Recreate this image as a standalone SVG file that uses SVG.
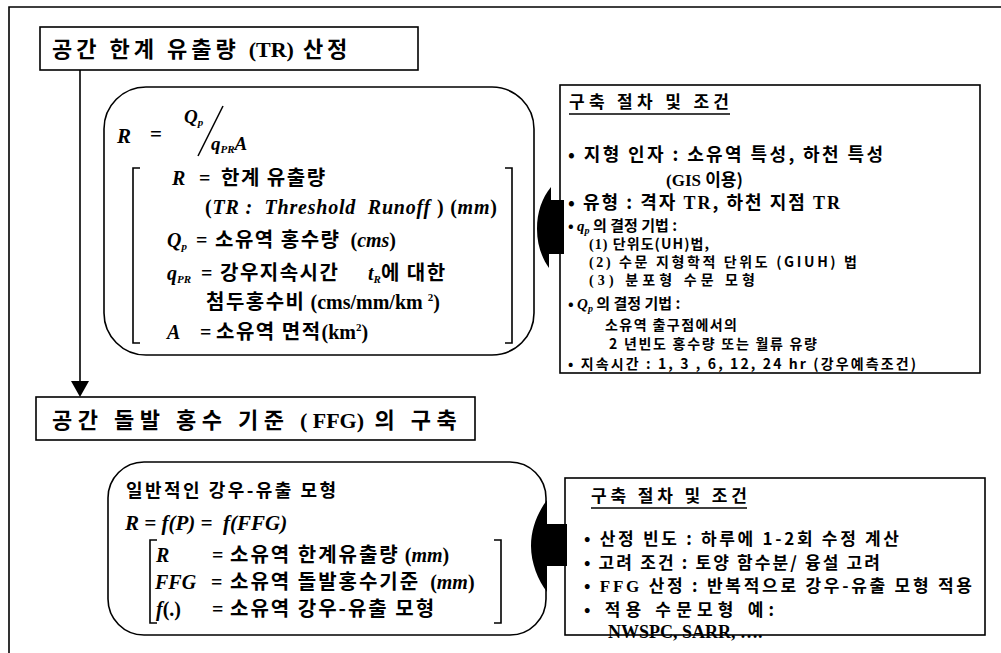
<svg xmlns="http://www.w3.org/2000/svg" width="1001" height="653" viewBox="0 0 1001 653">
<defs>
<style>
.k{font-family:"Noto Sans CJK KR","Noto Sans",sans-serif;font-weight:bold;fill:#000}
.m{font-family:"Liberation Serif","Noto Sans CJK KR",serif;font-weight:bold;font-style:italic;fill:#000}
.r{font-family:"Liberation Serif","Noto Sans CJK KR",serif;font-weight:bold;font-style:normal;fill:#000}
.box{fill:#fff;stroke:#000;stroke-width:1.6}
.ln{fill:none;stroke:#000;stroke-width:1.6}
.f1 tspan.k{letter-spacing:1.5px}
.f2 tspan.k{letter-spacing:2px}
.t1 tspan.k{letter-spacing:4px}
.t2 tspan.k{letter-spacing:5.5px}
</style>
</defs>
<rect width="1001" height="653" fill="#fff"/>
<g id="frame"><path class="ln" d="M9,653 L9,7 L1001,7"/></g>

<g id="title1" class="t1">
<rect class="box" x="40" y="27" width="378" height="43"/>
<text x="52" y="57" font-size="22" xml:space="preserve"><tspan class="k">공간 한계 유출량 </tspan><tspan class="r">(TR)</tspan><tspan class="k"> 산정</tspan></text>
</g>

<g id="tr-formula" class="f1">
<rect class="box" x="104" y="87" width="430" height="268" rx="42"/>
<text class="m" x="117" y="143" font-size="21">R</text>
<text class="r" x="150" y="141" font-size="21">=</text>
<text class="m" x="184" y="123" font-size="19">Q<tspan font-size="11" dy="3">p</tspan></text>
<line class="ln" x1="198" y1="156" x2="223" y2="106"/>
<text class="m" x="211" y="150" font-size="19">q<tspan font-size="11" dy="3">PR</tspan><tspan dy="-3">A</tspan></text>
<path class="ln" d="M140,168 L133,168 L133,343 L140,343"/>
<path class="ln" d="M505,168 L512,168 L512,343 L505,343"/>
<text x="172" y="185" font-size="20"><tspan class="m">R</tspan><tspan class="r" x="199">=</tspan><tspan class="k" x="221">한계 유출량</tspan></text>
<text x="205" y="214" font-size="20" xml:space="preserve" textLength="292" lengthAdjust="spacing"><tspan class="r">(</tspan><tspan class="m">TR :  Threshold  Runoff </tspan><tspan class="r">) (</tspan><tspan class="m">mm</tspan><tspan class="r">)</tspan></text>
<text x="167" y="247" font-size="20"><tspan class="m">Q<tspan font-size="11" dy="3">p</tspan></tspan><tspan class="r" dy="-3" x="196">=</tspan><tspan class="k" x="215">소유역  홍수량</tspan><tspan class="r" xml:space="preserve">  (</tspan><tspan class="m">cms</tspan><tspan class="r">)</tspan></text>
<text x="167" y="280" font-size="20"><tspan class="m">q<tspan font-size="11" dy="3">PR</tspan></tspan><tspan class="r" dy="-3" x="201">=</tspan><tspan class="k" x="220">강우지속시간</tspan><tspan class="m" x="368">t<tspan font-size="11" dy="3">R</tspan></tspan><tspan class="k" dy="-3">에 대한</tspan></text>
<text x="206" y="309" font-size="20"><tspan class="k">첨두홍수비</tspan><tspan class="r" xml:space="preserve"> (cms/mm/km </tspan><tspan class="r" font-size="11" dy="-8">2</tspan><tspan class="r" dy="8">)</tspan></text>
<text x="167" y="339" font-size="20"><tspan class="m">A</tspan><tspan class="r" x="200">=</tspan><tspan class="k" x="216">소유역  면적</tspan><tspan class="r">(km</tspan><tspan class="r" font-size="11" dy="-8">2</tspan><tspan class="r" dy="8">)</tspan></text>
</g>

<g id="tr-procedure">
<rect class="box" x="560" y="85" width="420" height="288"/>
<text class="k" x="569" y="108" font-size="17" textLength="160" lengthAdjust="spacing">구축 절차 및 조건</text>
<line class="ln" x1="569" y1="114" x2="730" y2="114"/>
<text class="k" x="568" y="161" font-size="18" textLength="315" lengthAdjust="spacing">• 지형 인자 : 소유역 특성, 하천 특성</text>
<text x="666" y="186" font-size="17"><tspan class="r">(GIS </tspan><tspan class="k">이용)</tspan></text>
<text class="k" x="568" y="209" font-size="18" textLength="272" lengthAdjust="spacing">• 유형 :  격자 <tspan class="r">TR</tspan>, 하천 지점  <tspan class="r">TR</tspan></text>
<text x="568" y="231" font-size="15"><tspan class="k">• </tspan><tspan class="m">q<tspan font-size="10" dy="3">p</tspan></tspan><tspan class="k" dy="-3"> 의 결정 기법 :</tspan></text>
<text class="k" x="589" y="249" font-size="14" textLength="120" lengthAdjust="spacing"><tspan class="r">(1)</tspan>  단위도(UH)법,</text>
<text class="k" x="589" y="267" font-size="14" textLength="268" lengthAdjust="spacing"><tspan class="r">(2)</tspan>  수문 지형학적 단위도 (GIUH) 법</text>
<text class="k" x="589" y="285" font-size="14" textLength="166" lengthAdjust="spacing"><tspan class="r">(3)</tspan>   분포형 수문 모형</text>
<text x="568" y="309" font-size="15"><tspan class="k">• </tspan><tspan class="m">Q<tspan font-size="10" dy="3">p</tspan></tspan><tspan class="k" dy="-3"> 의 결정 기법 :</tspan></text>
<text class="k" x="605" y="330" font-size="14" textLength="132" lengthAdjust="spacing">소유역 출구점에서의</text>
<text class="k" x="609" y="349" font-size="14" textLength="208" lengthAdjust="spacing">2 년빈도 홍수량 또는 월류 유량</text>
<text class="k" x="568" y="369" font-size="14" textLength="348" lengthAdjust="spacing">• 지속시간 : 1, 3 , 6, 12, 24  hr (강우예측조건)</text>
</g>

<g id="title2" class="t2">
<rect class="box" x="36" y="397" width="439" height="43"/>
<text x="52" y="428" font-size="22" xml:space="preserve"><tspan class="k">공간 돌발 홍수 기준 </tspan><tspan class="r">( FFG)</tspan><tspan class="k"> 의 구축</tspan></text>
</g>

<g id="ffg-formula" class="f2">
<rect class="box" x="108" y="462" width="438" height="173" rx="36"/>
<text class="k" x="126" y="497" font-size="18" textLength="210" lengthAdjust="spacing">일반적인  강우-유출 모형</text>
<text class="m" x="125" y="530" font-size="21" xml:space="preserve">R = f(P) =  f(FFG)</text>
<path class="ln" d="M157,540 L150,540 L150,623 L157,623"/>
<path class="ln" d="M494,540 L501,540 L501,623 L494,623"/>
<text x="156" y="562" font-size="20"><tspan class="m">R</tspan><tspan class="r" x="212">=</tspan><tspan class="k" x="230">소유역  한계유출량</tspan><tspan class="r" xml:space="preserve"> (</tspan><tspan class="m">mm</tspan><tspan class="r">)</tspan></text>
<text x="155" y="589" font-size="20"><tspan class="m">FFG</tspan><tspan class="r" x="211">=</tspan><tspan class="k" x="230">소유역  돌발홍수기준</tspan><tspan class="r" xml:space="preserve">  (</tspan><tspan class="m">mm</tspan><tspan class="r">)</tspan></text>
<text x="156" y="616" font-size="20"><tspan class="m">f</tspan><tspan class="r">(.)</tspan><tspan class="r" x="212">=</tspan><tspan class="k" x="230">소유역  강우-유출 모형</tspan></text>
</g>

<g id="ffg-procedure">
<rect class="box" x="565" y="478" width="420" height="157"/>
<text class="k" x="591" y="502" font-size="17" textLength="156" lengthAdjust="spacing">구축 절차 및 조건</text>
<line class="ln" x1="591" y1="508" x2="747" y2="508"/>
<text class="k" x="584" y="545" font-size="17" textLength="315" lengthAdjust="spacing">• 산정 빈도 : 하루에 1-2회 수정 계산</text>
<text class="k" x="584" y="569" font-size="17" textLength="296" lengthAdjust="spacing">• 고려 조건 : 토양 함수분/ 융설 고려</text>
<text class="k" x="584" y="592" font-size="17" textLength="388" lengthAdjust="spacing">• <tspan class="r">FFG</tspan> 산정 : 반복적으로 강우-유출 모형 적용</text>
<text class="k" x="584" y="616" font-size="17" textLength="190" lengthAdjust="spacing">• 적용 수문모형 예:</text>
<text class="r" x="608" y="638" font-size="18">NWSPC, SARR, ….</text>
</g>

<g id="connectors">
<line class="ln" x1="80" y1="70" x2="80" y2="382"/>
<path d="M71,381 L89,381 L80,397 Z" fill="#000"/>
<path id="arrow1" d="M564,200 L564,254 L549,254 L549,268 C542,258 537,245 537,229 C537,212 542,198 551,187 L551,200 Z" fill="#000"/>
<path id="arrow2" d="M567,524 L567,566 L547,566 L547,592 C538,580 531,563 531,546 C531,528 538,512 547,500 L547,524 Z" fill="#000"/>
</g>
</svg>
